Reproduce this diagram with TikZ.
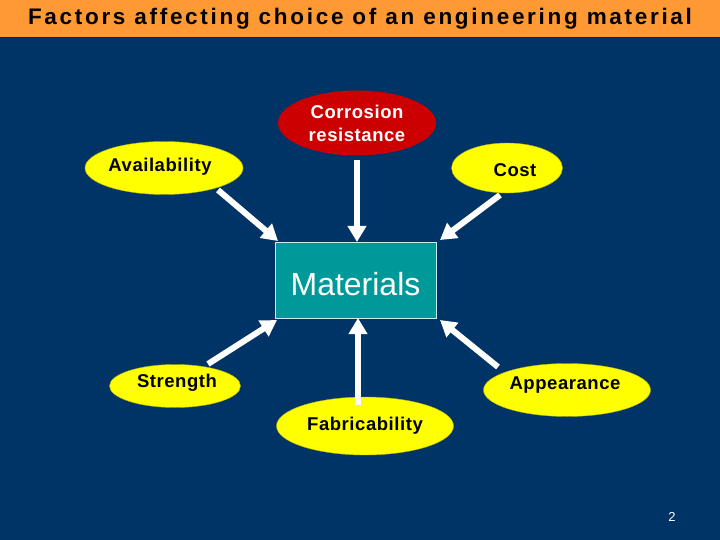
\documentclass[tikz,border=0pt]{standalone}
\usepackage{fontspec}
\setmainfont{Liberation Sans}
\newfontfamily\titlefont[LetterSpace=12]{Liberation Sans}
\newfontfamily\lblfont[LetterSpace=3]{Liberation Sans}
\usetikzlibrary{arrows.meta,shapes.geometric}
\definecolor{navy}{RGB}{0,51,102}
\definecolor{orangebar}{RGB}{255,153,51}
\definecolor{ellred}{RGB}{204,0,0}
\definecolor{ellyel}{RGB}{255,255,0}
\definecolor{teal}{RGB}{0,153,153}
\tikzset{
  yell/.style={ellipse,fill=ellyel,draw=ellyel!70!black,line width=0.4pt,inner sep=0pt},
  lbl/.style={font=\lblfont\bfseries\fontsize{18.5}{22}\selectfont,text=black},
  bigarrow/.style={draw=white,line width=6pt,-{Triangle[length=16pt,width=18pt]}},
}
\begin{document}
\begin{tikzpicture}[x=1pt,y=-1pt]
\useasboundingbox (0,0) rectangle (720,540);
\fill[navy] (0,0) rectangle (720,540);
\fill[orangebar] (0,0) rectangle (720,37);
\draw[navy!70!black,line width=1pt] (0,37.5) -- (720,37.5);
\node (title) at (360,19) {\titlefont\bfseries\fontsize{22.5}{26}\selectfont Factors affecting choice of an engineering material};
% ellipses
\node[ellipse,fill=ellred,minimum width=158pt,minimum height=65pt,inner sep=0pt] (corr) at (357,123) {};
\node[text=white,font=\lblfont\bfseries\fontsize{18.5}{23}\selectfont,align=center] (corrt) at (357,123) {Corrosion\\resistance};
\node[yell,minimum width=158pt,minimum height=53pt] (avail) at (164,168) {};
\node[lbl] (availt) at (160,167) {Availability};
\node[yell,minimum width=111pt,minimum height=50pt] (cost) at (507,168) {};
\node[lbl] (costt) at (515,170) {Cost};
\node[yell,minimum width=131pt,minimum height=43pt] (str) at (175,386) {};
\node[lbl] (strt) at (177,383) {Strength};
\node[yell,minimum width=167pt,minimum height=53pt] (app) at (567,390) {};
\node[lbl] (appt) at (565,385) {Appearance};
\node[yell,minimum width=177pt,minimum height=58pt] (fab) at (365,426) {};
\node[lbl] (fabt) at (365,426) {Fabricability};
% materials
\node[draw=white!80!teal,fill=teal,line width=0.8pt,minimum width=161pt,minimum height=76pt,inner sep=0pt] (mat) at (355.5,280) {};
\node[text=white,font=\fontsize{32}{36}\selectfont] (matt) at (355.5,284) {Materials};
% arrow ends
\coordinate (a1) at (218,190); \coordinate (b1) at (278,241);
\coordinate (a2) at (357,160); \coordinate (b2) at (357,242);
\coordinate (a3) at (500,195); \coordinate (b3) at (440,240);
\coordinate (a4) at (208,364); \coordinate (b4) at (277,320);
\coordinate (a5) at (358,405); \coordinate (b5) at (358,318);
\coordinate (a6) at (498,367); \coordinate (b6) at (440,320);
\draw[bigarrow] (a1) -- (b1);
\draw[bigarrow] (a2) -- (b2);
\draw[bigarrow] (a3) -- (b3);
\draw[bigarrow] (a4) -- (b4);
\draw[bigarrow] (a5) -- (b5);
\draw[bigarrow] (a6) -- (b6);
\node[text=white,font=\fontsize{13}{15}\selectfont] (pg) at (672,517) {2};
\end{tikzpicture}
\end{document}
